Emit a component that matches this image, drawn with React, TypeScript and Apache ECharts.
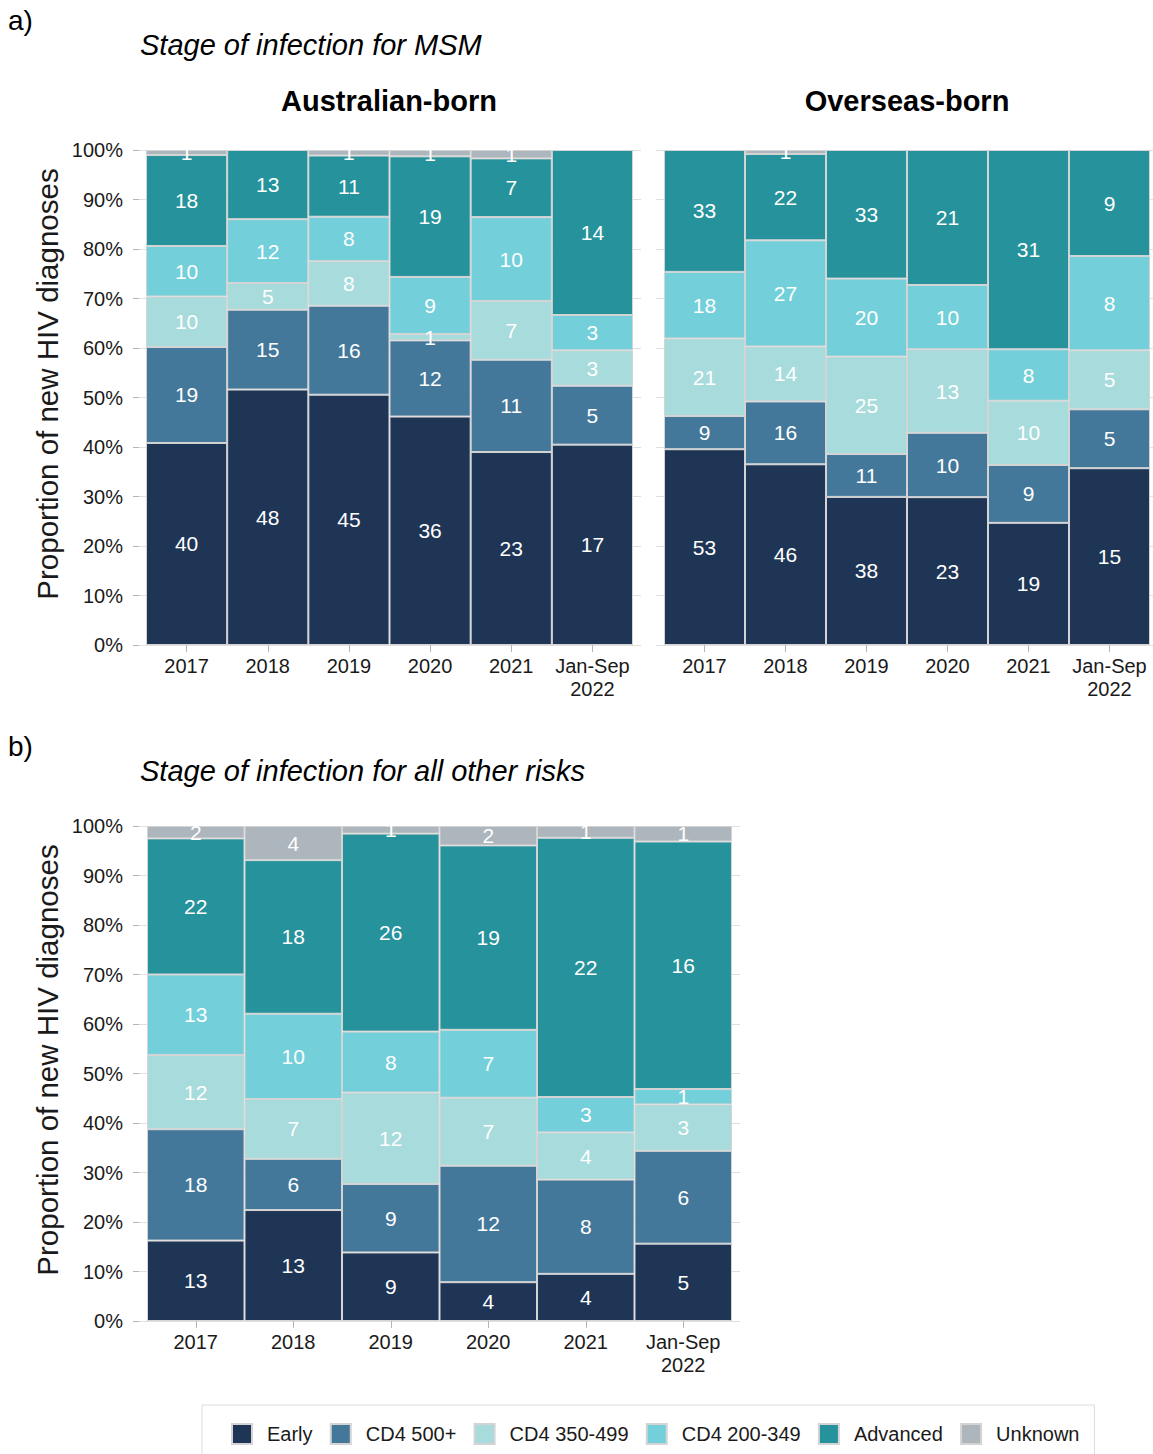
import React, { useEffect, useRef } from 'react';
import * as echarts from 'echarts';

const categories = ['2017', '2018', '2019', '2020', '2021', 'Jan-Sep\n2022'];
const stages = ['Early', 'CD4 500+', 'CD4 350-499', 'CD4 200-349', 'Advanced', 'Unknown'];
const stageColors = ['#1f3556', '#44789b', '#a8dbdc', '#73cfd9', '#26929b', '#adb5bd'];
const yTicks = [0, 10, 20, 30, 40, 50, 60, 70, 80, 90, 100];

// a) MSM, Australian-born (counts per stage, per year)
const ausEarly = [40, 48, 45, 36, 23, 17];
const ausCd4500 = [19, 15, 16, 12, 11, 5];
const ausCd4350 = [10, 5, 8, 1, 7, 3];
const ausCd4200 = [10, 12, 8, 9, 10, 3];
const ausAdvanced = [18, 13, 11, 19, 7, 14];
const ausUnknown = [1, 0, 1, 1, 1, 0];

// a) MSM, Overseas-born
const ovsEarly = [53, 46, 38, 23, 19, 15];
const ovsCd4500 = [9, 16, 11, 10, 9, 5];
const ovsCd4350 = [21, 14, 25, 13, 10, 5];
const ovsCd4200 = [18, 27, 20, 10, 8, 8];
const ovsAdvanced = [33, 22, 33, 21, 31, 9];
const ovsUnknown = [0, 1, 0, 0, 0, 0];

// b) All other risks
const othEarly = [13, 13, 9, 4, 4, 5];
const othCd4500 = [18, 6, 9, 12, 8, 6];
const othCd4350 = [12, 7, 12, 7, 4, 3];
const othCd4200 = [13, 10, 8, 7, 3, 1];
const othAdvanced = [22, 18, 26, 19, 22, 16];
const othUnknown = [2, 4, 1, 2, 1, 1];

const FONT = '"Liberation Sans", Arial, sans-serif';
const TEXT = '#1a1a1a';
const GRID_LINE = '#e0e0e0';
const TICK = '#b5b5b5';

function buildSeries(panel: number[][], xi: number, yi: number, stack: string) {
  const totals = categories.map((_, c) => panel.reduce((s, row) => s + row[c], 0));
  return panel.map((row, si) => ({
    name: stages[si],
    type: 'bar',
    stack,
    xAxisIndex: xi,
    yAxisIndex: yi,
    barWidth: '100%',
    barCategoryGap: '0%',
    itemStyle: { color: stageColors[si], borderColor: '#d4d4d4', borderWidth: 1 },
    label: {
      show: true,
      position: 'inside',
      color: '#ffffff',
      fontSize: 21,
      fontFamily: FONT,
      formatter: (p: any) => (p.data && p.data.count ? String(p.data.count) : ''),
    },
    emphasis: { disabled: true },
    data: row.map((v, c) => (v > 0 ? { value: (v / totals[c]) * 100, count: v } : { value: '-', count: 0 })),
  }));
}

export default function App() {
  const ref = useRef<HTMLDivElement>(null);
  useEffect(() => {
    if (!ref.current) return;
    const chart = echarts.init(ref.current, undefined, { renderer: 'svg' });

    const panelA = [ausEarly, ausCd4500, ausCd4350, ausCd4200, ausAdvanced, ausUnknown];
    const panelO = [ovsEarly, ovsCd4500, ovsCd4350, ovsCd4200, ovsAdvanced, ovsUnknown];
    const panelB = [othEarly, othCd4500, othCd4350, othCd4200, othAdvanced, othUnknown];

    const W = 1153;
    const grids = [
      { left: 139, width: 502, top: 150, height: 495 }, // bg A
      { left: 146, width: 487, top: 150, height: 495 }, // bars A
      { left: 656, width: 497, top: 150, height: 495 }, // bg O
      { left: 664, width: 486, top: 150, height: 495 }, // bars O
      { left: 139, width: 601, top: 826, height: 495 }, // bg B
      { left: 147, width: 585, top: 826, height: 495 }, // bars B
    ];

    const bgY = (showLabels: boolean, gi: number) => ({
      type: 'value',
      gridIndex: gi,
      min: yTicks[0],
      max: yTicks[yTicks.length - 1],
      interval: 10,
      axisLine: { show: false },
      axisTick: { show: showLabels, length: 6, lineStyle: { color: TICK } },
      axisLabel: {
        show: showLabels,
        formatter: (v: number) => v + '%',
        fontSize: 20,
        color: TEXT,
        fontFamily: FONT,
        margin: 16,
      },
      splitLine: { show: true, lineStyle: { color: GRID_LINE, width: 1 } },
    });
    const barY = (gi: number) => ({
      type: 'value',
      gridIndex: gi,
      min: 0,
      max: 100,
      show: false,
      splitLine: { show: false },
    });
    const bgX = (gi: number) => ({ type: 'value', gridIndex: gi, show: false, min: 0, max: 1 });
    const barX = (gi: number) => ({
      type: 'category',
      gridIndex: gi,
      data: categories,
      axisLine: { show: false },
      axisTick: { show: true, alignWithLabel: true, length: 7, lineStyle: { color: TICK } },
      axisLabel: { fontSize: 20, color: TEXT, fontFamily: FONT, margin: 9, lineHeight: 23, interval: 0 },
      splitLine: { show: false },
    });

    const txt = (text: string, x: number, y: number, size: number, extra: any = {}) => ({
      type: 'text',
      x,
      y,
      z: 100,
      style: {
        text,
        fontSize: size,
        fontFamily: FONT,
        fill: '#000',
        textAlign: 'left',
        textVerticalAlign: 'middle',
        ...extra,
      },
    });

    const yTitle = (y: number) => ({
      type: 'text',
      x: 47,
      y,
      rotation: Math.PI / 2,
      z: 100,
      style: {
        text: 'Proportion of new HIV diagnoses',
        fontSize: 29.5,
        fontFamily: FONT,
        fill: TEXT,
        textAlign: 'center',
        textVerticalAlign: 'middle',
      },
    });

    const option: any = {
      animation: false,
      backgroundColor: '#ffffff',
      grid: grids,
      xAxis: [bgX(0), barX(1), bgX(2), barX(3), bgX(4), barX(5)],
      yAxis: [bgY(true, 0), barY(1), bgY(false, 2), barY(3), bgY(true, 4), barY(5)],
      legend: {
        data: stages,
        left: 202,
        top: 1405,
        orient: 'horizontal',
        icon: 'rect',
        itemWidth: 20,
        itemHeight: 20,
        itemGap: 17.2,
        padding: [18, 15, 18, 29],
        borderColor: '#dcdcdc',
        borderWidth: 1,
        selectedMode: false,
        textStyle: { fontSize: 20, color: TEXT, fontFamily: FONT, padding: [0, 0, 0, 10] },
      },
      graphic: [
        // mask labels overflowing above the plot panels
        { type: 'rect', z: 90, shape: { x: 130, y: 118, width: W - 130, height: 31.5 }, style: { fill: '#ffffff' } },
        { type: 'rect', z: 90, shape: { x: 130, y: 795, width: 620, height: 30.5 }, style: { fill: '#ffffff' } },
        txt('a)', 8, 20, 28),
        txt('Stage of infection for MSM', 140, 45, 29, { fontStyle: 'italic' }),
        txt('Australian-born', 389, 101, 29, { fontWeight: 'bold', textAlign: 'center' }),
        txt('Overseas-born', 907, 101, 29, { fontWeight: 'bold', textAlign: 'center' }),
        txt('b)', 8, 746, 28),
        txt('Stage of infection for all other risks', 140, 771, 29, { fontStyle: 'italic' }),
        yTitle(384),
        yTitle(1060),
      ],
      series: [
        ...buildSeries(panelA, 1, 1, 'aus'),
        ...buildSeries(panelO, 3, 3, 'ovs'),
        ...buildSeries(panelB, 5, 5, 'oth'),
      ],
    };

    chart.setOption(option);
    return () => chart.dispose();
  }, []);

  return (
    <div
      ref={ref}
      style={{ position: 'absolute', left: 0, top: 0, width: 1153, height: 1454, background: '#fff' }}
    />
  );
}
